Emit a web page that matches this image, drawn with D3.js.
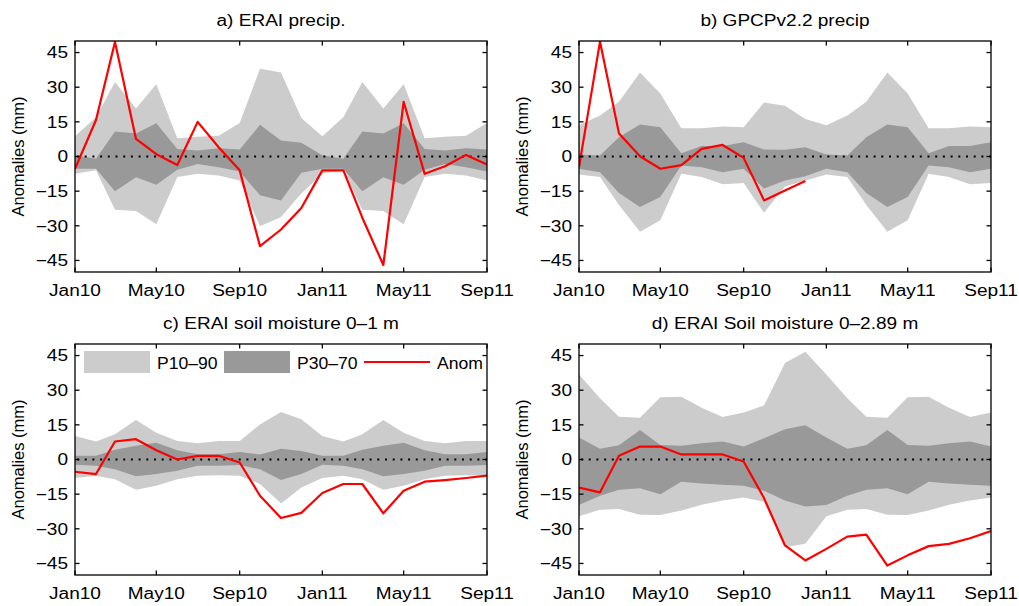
<!DOCTYPE html>
<html>
<head>
<meta charset="utf-8">
<script src="https://cdn.jsdelivr.net/npm/d3@7"></script>
<style>
  body { margin: 0; background: #fff; }
  text { font-family: "Liberation Sans", Arial, Helvetica, sans-serif; fill: #000; }
</style>
</head>
<body>
<svg id="fig" width="1019" height="606"></svg>
<script>
// Shared axis definitions
const tickLabels = ["Jan10", "May10", "Sep10", "Jan11", "May11", "Sep11"];
const tickMonths = ["2010-01", "2010-05", "2010-09", "2011-01", "2011-05", "2011-09"];
const yTicks = [-45, -30, -15, 0, 15, 30, 45];
const panelTitles = ["a) ERAI precip.", "b) GPCPv2.2 precip", "c) ERAI soil moisture 0\u20131 m", "d) ERAI Soil moisture 0\u20132.89 m"];
const legendLabels = ["P10\u201390", "P30\u201370", "Anom"];

// a) ERAI precipitation anomalies and climatological percentiles (mm)
const eraiPrecipAnom = [-5.3, 15.8, 49.6, 7.6, 1, -3.7, 15, 4, -6, -38.8, -31.6, -22.3, -6, -6, -26.5, -47, 23.7, -7.5, -4.2, 0.7, -3.5];
const eraiPrecipP90 = [8.8, 17, 32.3, 20.8, 31.3, 7.9, 8.6, 9, 14.5, 38, 36.4, 16.7, 8.8, 17, 32.3, 20.8, 31.3, 7.9, 8.6, 9, 14.5];
const eraiPrecipP10 = [-7.5, -6, -23, -23.6, -29.3, -8.9, -7.5, -8.2, -10.4, -30.2, -26.2, -16, -7.5, -6, -23, -23.6, -29.3, -8.9, -7.5, -8.2, -10.4];
const eraiPrecipP70 = [0.5, -1, 10.8, 10, 14.4, 3.3, 2.6, 3.6, 3, 13.7, 6.9, 5.9, 0.5, -1, 10.8, 10, 14.4, 3.3, 2.6, 3.6, 3];
const eraiPrecipP30 = [-5.3, -5.3, -15, -9, -12.2, -5.7, -3.2, -4.6, -6.5, -16.8, -19, -7, -5.3, -5.3, -15, -9, -12.2, -5.7, -3.2, -4.6, -6.5];

// b) GPCP v2.2 precipitation (record ends Dec 2010)
const gpcpPrecipAnom = [-4.6, 49.7, 10, 0.1, -5.3, -3.7, 3.3, 5, -0.6, -19, -14.7, -10.6, null, null, null, null, null, null, null, null, null];
const gpcpPrecipP90 = [13.5, 17.7, 23.7, 36.4, 27.3, 12.2, 12.2, 13, 12.7, 23.4, 22, 16.2, 13.5, 17.7, 23.7, 36.4, 27.3, 12.2, 12.2, 13, 12.7];
const gpcpPrecipP10 = [-7.8, -8.9, -21, -32.6, -27.6, -7.5, -8.9, -12, -11.5, -24.3, -13, -10.4, -7.8, -8.9, -21, -32.6, -27.6, -7.5, -8.9, -12, -11.5];
const gpcpPrecipP70 = [0.9, 0.4, 8.3, 13.8, 12.7, 1.4, 4.5, 4.5, 6.2, 3, 2.9, 4, 0.9, 0.4, 8.3, 13.8, 12.7, 1.4, 4.5, 4.5, 6.2];
const gpcpPrecipP30 = [-5.3, -6.8, -15.8, -21.9, -17.5, -3.9, -4.6, -6.8, -5.3, -13.9, -10.4, -8.6, -5.3, -6.8, -15.8, -21.9, -17.5, -3.9, -4.6, -6.8, -5.3];

// c) ERAI soil moisture 0-1 m
const soil1mAnom = [-5.3, -6.3, 7.8, 8.8, 4, 0, 1.6, 1.6, -1.3, -15.7, -25.3, -23.1, -14.5, -10.6, -10.6, -23.3, -13.5, -9.6, -8.9, -8, -7];
const soil1mP90 = [10.2, 7.8, 10.9, 17.1, 11.6, 8, 7, 8, 8, 15.2, 20.6, 17.4, 10.2, 7.8, 10.9, 17.1, 11.6, 8, 7, 8, 8];
const soil1mP10 = [-8, -7, -8.5, -13.1, -11.4, -8.5, -7, -6.8, -7, -10.6, -19, -12.1, -8, -7, -8.5, -13.1, -11.4, -8.5, -7, -6.8, -7];
const soil1mP70 = [1.6, 1.6, 4.2, 5.9, 7.3, 4, 2.3, 2.3, 3.3, 2.2, 4.7, 3.7, 1.6, 1.6, 4.2, 5.9, 7.3, 4, 2.3, 2.3, 3.3];
const soil1mP30 = [-2.3, -2.7, -4.2, -7.3, -6.3, -4.9, -2.7, -2.7, -2.4, -4.2, -8.9, -6.3, -2.3, -2.7, -4.2, -7.3, -6.3, -4.9, -2.7, -2.7, -2.4];

// d) ERAI soil moisture 0-2.89 m
const soil289Anom = [-12.2, -14.2, 1.6, 5.6, 5.6, 2.2, 2.2, 2.2, -0.9, -16.7, -37.2, -43.7, -38.7, -33.4, -32.5, -45.9, -41.5, -37.5, -36.5, -34.1, -31];
const soil289P90 = [36.8, 26.5, 18.5, 18.1, 27, 27.2, 22.4, 18.4, 20.3, 23.4, 41.8, 46.6, 36.8, 26.5, 18.5, 18.1, 27, 27.2, 22.4, 18.4, 20.3];
const soil289P10 = [-24.6, -21.7, -21.4, -23.9, -24, -22.1, -19.6, -17.8, -16.4, -18.3, -38, -36.5, -24.6, -21.7, -21.4, -23.9, -24, -22.1, -19.6, -17.8, -16.4];
const soil289P70 = [9.5, 4.7, 6.2, 12.8, 6.3, 5.9, 7, 7.8, 5.6, 9.2, 13.1, 14.8, 9.5, 4.7, 6.2, 12.8, 6.3, 5.9, 7, 7.8, 5.6];
const soil289P30 = [-19.7, -15.7, -13.1, -12.4, -15, -9.6, -10.4, -10.9, -11.4, -13.5, -17.8, -20.3, -19.7, -15.7, -13.1, -12.4, -15, -9.6, -10.4, -10.9, -11.4];

// Monthly time axis, Jan 2010 .. Sep 2011
const months = d3.timeMonth.range(new Date(2010, 0, 1), new Date(2011, 9, 1));
const parseMonth = d3.timeParse("%Y-%m");

const panels = [
  { title: panelTitles[0], anom: eraiPrecipAnom, p10: eraiPrecipP10, p90: eraiPrecipP90, p30: eraiPrecipP30, p70: eraiPrecipP70, left: 75, top: 41 },
  { title: panelTitles[1], anom: gpcpPrecipAnom, p10: gpcpPrecipP10, p90: gpcpPrecipP90, p30: gpcpPrecipP30, p70: gpcpPrecipP70, left: 579, top: 41 },
  { title: panelTitles[2], anom: soil1mAnom, p10: soil1mP10, p90: soil1mP90, p30: soil1mP30, p70: soil1mP70, left: 75, top: 344, legend: true },
  { title: panelTitles[3], anom: soil289Anom, p10: soil289P10, p90: soil289P90, p30: soil289P30, p70: soil289P70, left: 579, top: 344 }
];

const W = 412, H = 231;
const SX = 1.19;         // horizontal stretch applied to lettering
const FS = 16;           // font size for ticks, titles, legend
const LIGHT = "#cccccc", DARK = "#999999", RED = "#ff0000";

const svg = d3.select("#fig");

function txt(g, x, y, s, anchor, size, sx) {
  return g.append("text")
    .attr("transform", `translate(${x},${y}) scale(${sx},1)`)
    .attr("text-anchor", anchor)
    .attr("font-size", size)
    .text(s);
}

panels.forEach((p, k) => {
  const x = d3.scaleTime()
    .domain([months[0], months[months.length - 1]])
    .range([p.left, p.left + W]);
  const y = d3.scaleLinear().domain([-50, 50]).range([p.top + H, p.top]);

  const g = svg.append("g");
  const clipId = "clip" + k;
  svg.append("clipPath").attr("id", clipId)
    .append("rect").attr("x", p.left).attr("y", p.top).attr("width", W).attr("height", H);

  const plot = g.append("g").attr("clip-path", `url(#${clipId})`);
  const rows = months.map((m, i) => ({ m, a: p.anom[i], p10: p.p10[i], p90: p.p90[i], p30: p.p30[i], p70: p.p70[i] }));

  // P10-90 band
  plot.append("path")
    .attr("d", d3.area().x(d => x(d.m)).y0(d => y(d.p10)).y1(d => y(d.p90))(rows))
    .attr("fill", LIGHT);
  // P30-70 band
  plot.append("path")
    .attr("d", d3.area().x(d => x(d.m)).y0(d => y(d.p30)).y1(d => y(d.p70))(rows))
    .attr("fill", DARK);
  // zero reference line
  plot.append("line")
    .attr("x1", x(months[0]) + 2).attr("x2", x(months[months.length - 1]))
    .attr("y1", y(0)).attr("y2", y(0))
    .attr("stroke", "#000").attr("stroke-width", 2)
    .attr("stroke-dasharray", "2,5.7");
  // anomaly
  plot.append("path")
    .attr("d", d3.line().defined(d => d.a !== null).x(d => x(d.m)).y(d => y(d.a))(rows))
    .attr("fill", "none").attr("stroke", RED).attr("stroke-width", 2.2)
    .attr("stroke-linejoin", "round");

  // axes box and inward ticks on all four sides
  g.append("rect").attr("x", p.left).attr("y", p.top).attr("width", W).attr("height", H)
    .attr("fill", "none").attr("stroke", "#000").attr("stroke-width", 1.3);
  const tl = 4.5;
  tickMonths.forEach((tm, i) => {
    const tx = x(parseMonth(tm));
    g.append("line").attr("x1", tx).attr("x2", tx).attr("y1", p.top + H).attr("y2", p.top + H - tl)
      .attr("stroke", "#000").attr("stroke-width", 1.3);
    g.append("line").attr("x1", tx).attr("x2", tx).attr("y1", p.top).attr("y2", p.top + tl)
      .attr("stroke", "#000").attr("stroke-width", 1.3);
    txt(g, tx, p.top + H + 24, tickLabels[i], "middle", FS, SX);
  });
  yTicks.forEach(v => {
    const ty = y(v);
    g.append("line").attr("x1", p.left).attr("x2", p.left + tl).attr("y1", ty).attr("y2", ty)
      .attr("stroke", "#000").attr("stroke-width", 1.3);
    g.append("line").attr("x1", p.left + W).attr("x2", p.left + W - tl).attr("y1", ty).attr("y2", ty)
      .attr("stroke", "#000").attr("stroke-width", 1.3);
    txt(g, p.left - 7, ty + 5.8, v < 0 ? "\u2212" + Math.abs(v) : String(v), "end", FS, SX);
  });

  // title
  txt(g, p.left + W / 2, p.top - 15, p.title, "middle", FS, SX);

  // y label
  g.append("text")
    .attr("transform", `translate(${p.left - 51},${p.top + H / 2}) rotate(-90)`)
    .attr("text-anchor", "middle")
    .attr("font-size", 16.5)
    .text("Anomalies (mm)");

  // legend
  if (p.legend) {
    const lx = p.left, ly = p.top;
    g.append("rect").attr("x", lx + 9).attr("y", ly + 7).attr("width", 66).attr("height", 22).attr("fill", LIGHT);
    txt(g, lx + 82, ly + 24.5, legendLabels[0], "start", FS, 1.1);
    g.append("rect").attr("x", lx + 149).attr("y", ly + 7).attr("width", 66).attr("height", 22).attr("fill", DARK);
    txt(g, lx + 222, ly + 24.5, legendLabels[1], "start", FS, 1.1);
    g.append("line").attr("x1", lx + 289).attr("x2", lx + 355).attr("y1", ly + 18).attr("y2", ly + 18)
      .attr("stroke", RED).attr("stroke-width", 2.2);
    txt(g, lx + 362, ly + 24.5, legendLabels[2], "start", FS, 1.1);
  }
});
</script>
</body>
</html>
